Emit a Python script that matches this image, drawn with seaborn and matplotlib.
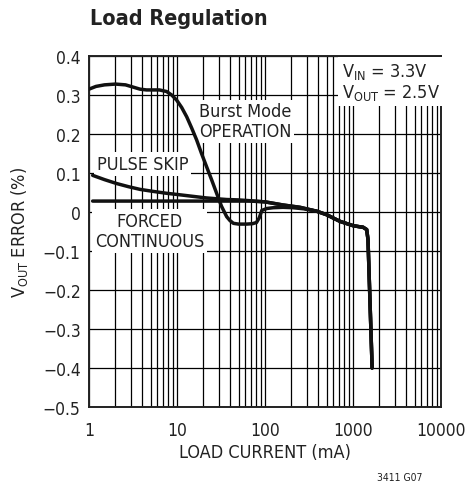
import matplotlib
matplotlib.use("Agg")
import matplotlib.pyplot as plt
import seaborn as sns
import pandas as pd
from matplotlib import font_manager as fm

# ---- data ----
burst_x = [1, 1.2, 1.5, 2, 2.6, 3.2, 3.8, 4.5, 5.3, 6.3, 7.6, 8.7, 9.9, 11.3, 12.9, 14.7, 16.7, 19, 21.7, 24.8,
           28.2, 32, 36.7, 40, 43.7, 50, 61.7, 72, 80, 86, 92, 105, 124, 160, 208, 280, 387, 502, 711, 1000,
           1200, 1300, 1430, 1480, 1650]
burst_y = [0.315, 0.322, 0.326, 0.328, 0.326, 0.320, 0.315, 0.313, 0.313, 0.313, 0.309, 0.300, 0.287, 0.268, 0.244,
           0.215, 0.185, 0.150, 0.116, 0.082, 0.048, 0.015, -0.012, -0.022, -0.029, -0.031, -0.031, -0.030, -0.027,
           -0.015, 0.004, 0.009, 0.011, 0.012, 0.011, 0.008, 0.002, -0.007, -0.024, -0.035, -0.038, -0.039,
           -0.045, -0.07, -0.40]

pulse_x = [1.1, 1.5, 2.06, 2.8, 3.8, 5.3, 7.6, 10, 12.9, 16.7, 21.7, 28.2, 36.7, 50, 67, 100, 160, 250, 387,
           502, 711, 1000, 1200, 1300, 1430, 1480, 1650]
pulse_y = [0.094, 0.083, 0.073, 0.065, 0.058, 0.053, 0.048, 0.045, 0.042, 0.039, 0.036, 0.034, 0.032, 0.031,
           0.029, 0.026, 0.018, 0.012, 0.002, -0.007, -0.024, -0.035, -0.038, -0.039, -0.045, -0.07, -0.40]

forced_x = [1.1, 2, 5, 10, 20, 40, 67, 100, 160, 250, 387, 502, 711, 1000, 1200, 1300, 1430, 1480, 1650]
forced_y = [0.028, 0.028, 0.028, 0.028, 0.028, 0.028, 0.028, 0.026, 0.018, 0.012, 0.002, -0.007, -0.024,
            -0.035, -0.038, -0.039, -0.045, -0.07, -0.40]

y_ticks = [0.4, 0.3, 0.2, 0.1, 0, -0.1, -0.2, -0.3, -0.4, -0.5]
y_labels = ["0.4", "0.3", "0.2", "0.1", "0", "\u22120.1", "\u22120.2", "\u22120.3", "\u22120.4", "\u22120.5"]
x_ticks = [1, 10, 100, 1000, 10000]
x_labels = ["1", "10", "100", "1000", "10000"]

# ---- style ----
sns.set_style("white")
narrow = None
for f in fm.fontManager.ttflist:
    if ("Narrow" in f.name or "Condensed" in f.name or f.stretch in ("condensed", "semi-condensed")) \
            and f.weight in (400, "normal", "regular") and f.style == "normal":
        narrow = f
        break
if narrow is not None:
    fam = narrow.name
    stretch = narrow.stretch
else:
    fam = "Liberation Sans"
    stretch = "normal"
plt.rcParams["font.family"] = [fam, "DejaVu Sans"]
plt.rcParams["font.stretch"] = stretch
plt.rcParams["mathtext.default"] = "regular"
plt.rcParams["axes.unicode_minus"] = True
FS = 12.5 if narrow is None else 13
TFS = 12 if narrow is None else 12.5

fig = plt.figure(figsize=(4.65, 4.89), dpi=100)
ax = fig.add_axes([89 / 465, 1 - 408 / 489, 352 / 465, 351 / 489])

df = pd.concat([
    pd.DataFrame({"x": burst_x, "y": burst_y, "s": "burst"}),
    pd.DataFrame({"x": pulse_x, "y": pulse_y, "s": "pulse"}),
    pd.DataFrame({"x": forced_x, "y": forced_y, "s": "forced"}),
])
sns.lineplot(data=df, x="x", y="y", units="s", estimator=None, sort=False,
             color="#111111", linewidth=2.5, ax=ax, zorder=5)

ax.set_xscale("log")
ax.set_xlim(1, 10000)
ax.set_ylim(-0.5, 0.4)
ax.set_xticks(x_ticks)
ax.set_xticklabels(x_labels)
ax.set_yticks(y_ticks)
ax.set_yticklabels(y_labels)
ax.grid(True, which="major", color="black", linewidth=0.9)
ax.grid(True, which="minor", axis="x", color="black", linewidth=0.9)
ax.tick_params(axis="y", which="both", length=0, labelsize=TFS, pad=6, colors="#222222")
ax.tick_params(axis="x", which="both", length=0, labelsize=TFS, pad=10, colors="#222222")
for sp in ax.spines.values():
    sp.set_color("#222222")
    sp.set_linewidth(1.4)

ax.set_xlabel("LOAD CURRENT (mA)", fontsize=FS, color="#222222", labelpad=3)
ax.set_ylabel("V$_{OUT}$ ERROR (%)", fontsize=FS, color="#222222", labelpad=9)

box = dict(facecolor="white", edgecolor="none", pad=2.0)
ax.text(59, 0.233, "Burst Mode\nOPERATION", ha="center", va="center", fontsize=FS,
        color="#222222", linespacing=1.1, bbox=box, zorder=4)
ax.text(4.1, 0.123, "PULSE SKIP", ha="center", va="center", fontsize=FS,
        color="#222222", bbox=box, zorder=4)
ax.text(4.9, -0.049, "FORCED\nCONTINUOUS", ha="center", va="center", fontsize=FS,
        color="#222222", linespacing=1.15, bbox=box, zorder=4)
ax.text(0.72, 0.985, "V$_{IN}$ = 3.3V\nV$_{OUT}$ = 2.5V", transform=ax.transAxes, ha="left", va="top",
        fontsize=FS, color="#222222", linespacing=1.05,
        bbox=dict(facecolor="white", edgecolor="none", pad=3.0), zorder=4)

fig.text(90 / 465, 1 - 19 / 489, "Load Regulation", fontsize=15.5,
         fontweight="bold", color="#222222", ha="left", va="center")
fig.text(400 / 465, 1 - 478 / 489, "3411 G07", fontsize=7.5, color="#222222", ha="center", va="center")

fig.savefig("out.png", dpi=100)
